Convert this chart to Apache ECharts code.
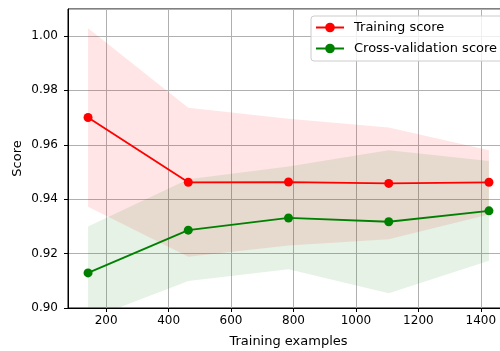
<!DOCTYPE html>
<html>
<head>
<meta charset="utf-8">
<script src="https://cdn.jsdelivr.net/npm/echarts@6/dist/echarts.min.js"></script>
<style>
  html, body { margin: 0; padding: 0; background: #ffffff; overflow: hidden; }
  #chart { width: 500px; height: 351px; }
</style>
</head>
<body>
<div id="chart"></div>
<script>
// Learning curve: number of training examples vs. mean score (with ±1 std band)
const trainSizes = [142, 463, 784, 1105, 1426];
const trainMean  = [0.9700, 0.9462, 0.9463, 0.9458, 0.9462];
const trainStd   = [0.0328, 0.0274, 0.0233, 0.0205, 0.0118];
const testMean   = [0.9129, 0.9286, 0.9331, 0.9317, 0.9357];
const testStd    = [0.0171, 0.0187, 0.0189, 0.0263, 0.0183];
const seriesNames = ['Training score', 'Cross-validation score'];
const xLimits = [77.8, 1490.2];
const yLimits = [0.90, 1.0099];

const FONT = 'DejaVu Sans';

function pairs(xs, ys) {
  return xs.map((x, i) => [x, ys[i]]);
}

// Shaded region between mean - std and mean + std
function band(mean, std, fill) {
  return {
    type: 'custom',
    silent: true,
    clip: true,
    z: 1,
    data: [[trainSizes[0], mean[0]]],
    renderItem: function (params, api) {
      const upper = trainSizes.map((x, i) => api.coord([x, mean[i] + std[i]]));
      const lower = trainSizes.map((x, i) => api.coord([x, mean[i] - std[i]])).reverse();
      return {
        type: 'polygon',
        shape: { points: upper.concat(lower) },
        style: { fill: fill }
      };
    }
  };
}

function curve(name, mean, color) {
  return {
    name: name,
    type: 'line',
    data: pairs(trainSizes, mean),
    symbol: 'circle',
    symbolSize: 9,
    showSymbol: true,
    z: 3,
    itemStyle: { color: color },
    lineStyle: { color: color, width: 1.8 },
    emphasis: { disabled: true },
    animation: false
  };
}

const chart = echarts.init(document.getElementById('chart'), null, { renderer: 'canvas' });

chart.setOption({
  animation: false,
  backgroundColor: '#ffffff',
  textStyle: { fontFamily: FONT },
  grid: {
    left: 68, width: 441, top: 9, bottom: 43,
    outerBoundsMode: 'none',
    containLabel: false,
    show: true, borderColor: '#000000', borderWidth: 1,
    backgroundColor: 'transparent'
  },
  legend: {
    data: seriesNames,
    orient: 'vertical',
    left: 311, top: 16,
    padding: [5, 10, 6, 4],
    itemWidth: 28, itemHeight: 12, itemGap: 8,
    backgroundColor: 'rgba(255,255,255,0.8)',
    borderColor: '#cccccc', borderWidth: 1, borderRadius: 3,
    textStyle: { fontFamily: FONT, fontSize: 13, color: '#000000', padding: [0, 0, 0, 5] },
    selectedMode: false
  },
  xAxis: {
    type: 'value',
    min: xLimits[0], max: xLimits[1],
    splitNumber: 7,
    name: 'Training examples',
    nameLocation: 'middle',
    nameGap: 27,
    nameMoveOverlap: false,
    nameTextStyle: { fontFamily: FONT, fontSize: 13, color: '#000000' },
    axisLine: { show: true, lineStyle: { color: '#000000', width: 1 } },
    axisTick: { show: true, length: 4, lineStyle: { color: '#000000' } },
    axisLabel: {
      fontFamily: FONT, fontSize: 12, color: '#000000', margin: 7,
      showMinLabel: false, showMaxLabel: false,
      formatter: v => String(v)
    },
    splitLine: { show: true, lineStyle: { color: '#b0b0b0', width: 1 } }
  },
  yAxis: {
    type: 'value',
    min: yLimits[0], max: yLimits[1],
    interval: 0.02,
    name: 'Score',
    nameLocation: 'middle',
    nameGap: 44,
    nameMoveOverlap: false,
    nameTextStyle: { fontFamily: FONT, fontSize: 13, color: '#000000' },
    axisLine: { show: true, lineStyle: { color: '#000000', width: 1 } },
    axisTick: { show: true, length: 4, lineStyle: { color: '#000000' } },
    axisLabel: {
      fontFamily: FONT, fontSize: 12, color: '#000000', margin: 10,
      showMaxLabel: false,
      formatter: v => v.toFixed(2)
    },
    splitLine: { show: true, lineStyle: { color: '#b0b0b0', width: 1 } }
  },
  series: [
    band(trainMean, trainStd, 'rgba(255,0,0,0.1)'),
    band(testMean, testStd, 'rgba(0,128,0,0.1)'),
    curve(seriesNames[0], trainMean, '#ff0000'),
    curve(seriesNames[1], testMean, '#008000')
  ]
});
</script>
</body>
</html>
